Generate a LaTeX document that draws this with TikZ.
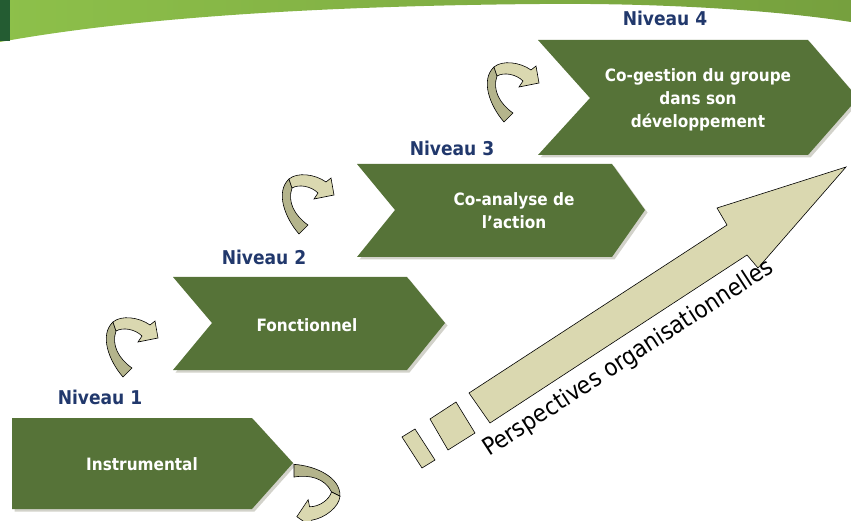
\documentclass[tikz,border=0pt]{standalone}
\usepackage{fontspec}
\setmainfont{DejaVu Sans Condensed}
\usetikzlibrary{calc}

\definecolor{chevgreen}{RGB}{86,115,56}
\definecolor{shadowgrey}{RGB}{210,210,202}
\definecolor{niveaublue}{RGB}{33,56,108}
\definecolor{ribbonlight}{RGB}{218,216,176}
\definecolor{ribbondark}{RGB}{180,180,140}
\definecolor{bannerlight}{RGB}{141,192,74}
\definecolor{banneroliv}{RGB}{118,160,62}
\definecolor{bannerdark}{RGB}{36,92,50}

\tikzset{
  chevron/.style={fill=chevgreen,
    preaction={fill=shadowgrey, transform canvas={shift={(2.5pt,-2.5pt)}}}},
  niveau/.style={text=niveaublue, font=\bfseries\fontsize{19}{22}\selectfont},
  chevtext/.style={text=white, align=center, font=\bfseries\fontsize{17}{23}\selectfont},
  twist/.pic={
    % dark part of the ribbon
    \filldraw[fill=ribbondark, draw=black, line width=0.6pt]
      (-4,4) .. controls (-18,-12) and (-28,-38) .. (-14,-51)
      -- (-11,-42) .. controls (-16,-28) and (-8,-14) .. (5,-5) -- cycle;
    % light part with the head
    \filldraw[fill=ribbonlight, draw=black, line width=0.6pt]
      (-14,-51) .. controls (-6,-58) and (12,-56) .. (23,-48)
      -- (28,-52) -- (31,-35) -- (11,-31) -- (15,-37)
      .. controls (8,-44) and (-4,-46) .. (-11,-42) -- cycle;
  }
}

\begin{document}
\begin{tikzpicture}[x=1pt, y=-1pt]
    \useasboundingbox (0,0) rectangle (851,521);

    % Banner
    \shade[left color=bannerlight, right color=banneroliv]
      (0,0) -- (851,0) -- (851,22) .. controls (760,8) and (640,3) .. (540,4)
      .. controls (300,6) and (120,20) .. (0,42) -- cycle;
    \fill[bannerdark] (0,0) rectangle (10,41);

    % Chevrons
    \fill[chevron] (12,418) -- (252,418) -- (293,463) -- (252,509) -- (12,509) -- cycle;
    \fill[chevron] (173,277) -- (407,277) -- (445,323) -- (407,370) -- (173,370) -- (212,323) -- cycle;
    \fill[chevron] (357,164) -- (612,164) -- (645,210) -- (612,257) -- (357,257) -- (395,210) -- cycle;
    \fill[chevron] (538,40) -- (808,40) -- (858,98) -- (808,155) -- (538,155) -- (590,98) -- cycle;

    \node[chevtext] (instr) at (142,464) {Instrumental};
    \node[chevtext] (fonct) at (307,325) {Fonctionnel};
    \node[chevtext] (coana) at (514,211) {Co-analyse de\\l’action};
    \node[chevtext] (coges) at (698,100) {Co-gestion du groupe\\dans son\\développement};

    % Levels
    \node[niveau] (niv1) at (100,397) {Niveau 1};
    \node[niveau] (niv2) at (264,257) {Niveau 2};
    \node[niveau] (niv3) at (452,148) {Niveau 3};
    \node[niveau] (niv4) at (665,18) {Niveau 4};

    % Curved arrows
    \pic at (127,373) {twist};
    \pic at (303,230) {twist};
    \pic at (508,118) {twist};
    \pic[rotate=-135] at (294,470) {twist};

    % Big arrow
    \filldraw[fill=ribbonlight, draw=black, line width=0.6pt]
      (490,423) -- (469,393) -- (727,225) -- (717,208) -- (846,167)
      -- (758,268) -- (747,255) -- cycle;
    \filldraw[fill=ribbonlight, draw=black, line width=0.6pt]
      (430,419) -- (456,402) -- (475,433) -- (448,450) -- cycle;
    \filldraw[fill=ribbonlight, draw=black, line width=0.6pt]
      (402,437) -- (415,429) -- (435,460) -- (422,468) -- cycle;

    \node[rotate=33, anchor=base west, inner sep=0pt, font=\fontsize{24}{27}\selectfont]
      (persp) at (489,457) {Perspectives organisationnelles};
\end{tikzpicture}
\end{document}
